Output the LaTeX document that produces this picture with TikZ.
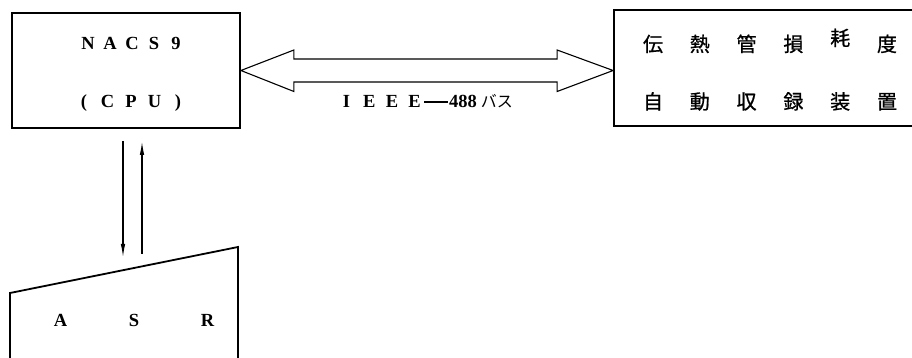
\documentclass[tikz,border=0pt]{standalone}
\usepackage{fontspec}
\newfontfamily\jpfont{Noto Sans CJK JP}
\newfontfamily\jpheavy[FakeBold=0.8]{Noto Sans CJK JP}
\newfontfamily\latinfont{Liberation Serif}
\usetikzlibrary{arrows.meta,calc}
% one character centred in a box of fixed width (spaced-out lettering)
\newcommand\spaced[2]{\makebox[#1]{#2}}

\begin{document}
\begin{tikzpicture}[x=1pt,y=-1pt,
  box/.style={draw,line width=1.8pt,inner sep=0pt},
  lbl/.style={inner sep=0pt,font=\fontsize{18.5}{18.5}\selectfont\latinfont\bfseries},
  jp/.style={inner sep=0pt,anchor=base,font=\fontsize{20}{20}\selectfont\jpheavy},
  bus/.style={draw,line width=1.1pt,line join=miter},
  link/.style={line width=1.4pt,-{Latex[length=14pt,width=4.5pt]}},
  outline/.style={line width=1.8pt,line join=miter}
]
\useasboundingbox (0,0) rectangle (912,358);
\clip (0,0) rectangle (912,358);

% CPU
\node[box,minimum width=228pt,minimum height=115pt] (cpu) at (126,70.5) {};
\node[lbl] (cpuname) at (132,43)
  {\spaced{22pt}{N}\spaced{22pt}{A}\spaced{22pt}{C}\spaced{22pt}{S}\spaced{22pt}{9}};
\node[lbl] (cpusub) at (131,103)
  {\spaced{23.5pt}{(}\spaced{23.5pt}{C}\spaced{23.5pt}{P}\spaced{23.5pt}{U}\spaced{23.5pt}{)}};

% recorder (runs past the right edge)
\node[box,minimum width=320pt,minimum height=116pt] (rec) at (774,68) {};
\node[jp] (recrow1) at (770,51.5)
  {\spaced{46.8pt}{伝}\spaced{46.8pt}{熱}\spaced{46.8pt}{管}\spaced{46.8pt}{損}\spaced{46.8pt}{\raisebox{6pt}{耗}}\spaced{46.8pt}{度}};
\node[jp] (recrow2) at (770,109)
  {\spaced{46.8pt}{自}\spaced{46.8pt}{動}\spaced{46.8pt}{収}\spaced{46.8pt}{録}\spaced{46.8pt}{装}\spaced{46.8pt}{置}};

% IEEE-488 bus: hollow double-headed arrow
\coordinate (busL) at (cpu.east);
\coordinate (busR) at (rec.west |- cpu.east);
\draw[bus] (busL) -- ++(53,-20.5) -- ++(0,9)
  -- ($(busR)+(-56,-11.5)$) -- ++(0,-9) -- (busR)
  -- ++(-56,21) -- ++(0,-9.5)
  -- ($(busL)+(53,11.5)$) -- ++(0,9.5) -- cycle;
\node[lbl,anchor=base west] (buslabel) at (335,108)
  {\spaced{22.7pt}{I}\spaced{22.7pt}{E}\spaced{22.7pt}{E}\spaced{22.7pt}{E}\hspace{-2pt}\rule[5pt]{24pt}{1.8pt}\hspace{1pt}488\hspace{4pt}{\jpfont\mdseries\fontsize{16}{16}\selectfont バス}};

% ASR terminal (sloped top, runs past the bottom edge)
\draw[outline] (10,375) -- (10,293) -- (238,247) -- (238,375);
\node[lbl] (asr) at (134,320)
  {\spaced{73.5pt}{A}\spaced{73.5pt}{S}\spaced{73.5pt}{R}};

% CPU <-> ASR
\draw[link] ($(cpu.south)+(-3,12)$) -- ($(cpu.south)+(-3,129)$);
\draw[link] ($(cpu.south)+(16,125)$) -- ($(cpu.south)+(16,12)$);
\end{tikzpicture}
\end{document}
